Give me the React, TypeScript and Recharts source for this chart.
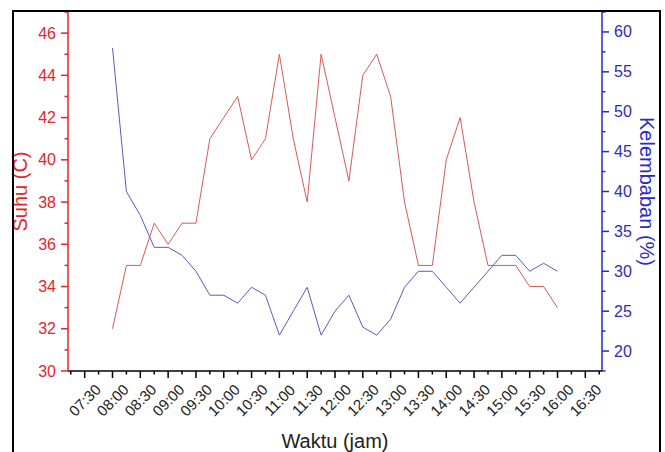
import { LineChart, Line, XAxis, YAxis } from "recharts";

// measurements every 15 minutes
const times = [
  "08:00", "08:15", "08:30", "08:45", "09:00", "09:15", "09:30", "09:45",
  "10:00", "10:15", "10:30", "10:45", "11:00", "11:15", "11:30", "11:45",
  "12:00", "12:15", "12:30", "12:45", "13:00", "13:15", "13:30", "13:45",
  "14:00", "14:15", "14:30", "14:45", "15:00", "15:15", "15:30", "15:45",
  "16:00",
];
const suhu = [
  32, 35, 35, 37, 36, 37, 37, 41, 42, 43, 40, 41, 45, 41, 38, 45,
  42, 39, 44, 45, 43, 38, 35, 35, 40, 42, 38, 35, 35, 35, 34, 34, 33,
];
const kelembaban = [
  58, 40, 37, 33, 33, 32, 30, 27, 27, 26, 28, 27, 22, 25, 28, 22,
  25, 27, 23, 22, 24, 28, 30, 30, 28, 26, 28, 30, 32, 32, 30, 31, 30,
];

const xTickLabels = [
  "07:30", "08:00", "08:30", "09:00", "09:30", "10:00", "10:30", "11:00",
  "11:30", "12:00", "12:30", "13:00", "13:30", "14:00", "14:30", "15:00",
  "15:30", "16:00", "16:30",
];
const suhuTickLabels = [30, 32, 34, 36, 38, 40, 42, 44, 46];
const kelembabanTickLabels = [20, 25, 30, 35, 40, 45, 50, 55, 60];

const RED = "#e2262b";
const BLUE = "#2a2ac6";
const FONT = "'Liberation Sans', Arial, sans-serif";
const TICK_SIZE = 7;
const TICK_GAP = 5;

const toHours = (t: string) => {
  const [h, m] = t.split(":").map(Number);
  return h + m / 60;
};

const data = times.map((t, i) => ({
  hour: toHours(t),
  suhu: suhu[i],
  kelembaban: kelembaban[i],
}));

// major + minor tick positions
const xTicks = Array.from({ length: 39 }, (_, i) => 7.25 + i * 0.25);
const suhuTicks = Array.from({ length: 18 }, (_, i) => 30 + i);
const kelembabanTicks = Array.from({ length: 19 }, (_, i) => 17.5 + i * 2.5);

function SuhuTick(props: any) {
  const { x, y, payload } = props;
  const axisX = x + TICK_SIZE + TICK_GAP;
  const major = suhuTickLabels.includes(payload.value);
  return (
    <g>
      <line x1={axisX - (major ? TICK_SIZE : 3.5)} x2={axisX} y1={y} y2={y} stroke={RED} strokeWidth={1.5} />
      {major && (
        <text x={x} y={y} textAnchor="end" dominantBaseline="central" fill={RED} fontSize={16} fontFamily={FONT}>
          {payload.value}
        </text>
      )}
    </g>
  );
}

function KelembabanTick(props: any) {
  const { x, y, payload } = props;
  const axisX = x - TICK_SIZE - TICK_GAP;
  const major = kelembabanTickLabels.includes(payload.value);
  return (
    <g>
      <line x1={axisX} x2={axisX + (major ? TICK_SIZE : 3.5)} y1={y} y2={y} stroke={BLUE} strokeWidth={1.5} />
      {major && (
        <text x={x} y={y} textAnchor="start" dominantBaseline="central" fill={BLUE} fontSize={16} fontFamily={FONT}>
          {payload.value}
        </text>
      )}
    </g>
  );
}

function TimeTick(props: any) {
  const { x, y, payload } = props;
  const axisY = y - TICK_SIZE - TICK_GAP;
  const label = xTickLabels.find((l) => Math.abs(toHours(l) - payload.value) < 1e-6);
  const cx = x;
  const cy = axisY + 29;
  return (
    <g>
      <line x1={x} x2={x} y1={axisY} y2={axisY + (label ? TICK_SIZE : 3.5)} stroke="#000" strokeWidth={1.5} />
      {label && (
        <text
          x={cx}
          y={cy}
          transform={`rotate(-45 ${cx} ${cy})`}
          textAnchor="middle"
          dominantBaseline="central"
          fill="#222"
          fontSize={15}
          fontFamily={FONT}
        >
          {label}
        </text>
      )}
    </g>
  );
}

export default function App() {
  return (
    <div style={{ position: "absolute", left: 0, top: 0, width: 665, height: 452, overflow: "hidden", background: "#fff" }}>
      <LineChart width={665} height={452} data={data} margin={{ top: 12, right: 0, bottom: 0, left: 0 }}>
        <XAxis
          type="number"
          dataKey="hour"
          domain={[7.2, 16.8]}
          ticks={xTicks}
          interval={0}
          height={81}
          tickSize={TICK_SIZE}
          tickMargin={TICK_GAP}
          tickLine={false}
          tick={<TimeTick />}
          axisLine={{ stroke: "#000", strokeWidth: 1.5 }}
          label={{
            value: "Waktu (jam)",
            position: "insideBottom",
            offset: 4,
            fill: "#222",
            fontSize: 20,
            fontFamily: FONT,
          }}
        />
        <YAxis
          yAxisId="suhu"
          orientation="left"
          domain={[30, 47]}
          ticks={suhuTicks}
          interval={0}
          width={68}
          tickSize={TICK_SIZE}
          tickMargin={TICK_GAP}
          tickLine={false}
          tick={<SuhuTick />}
          axisLine={{ stroke: RED, strokeWidth: 1.5 }}
          label={{
            value: "Suhu (C)",
            angle: -90,
            position: "insideLeft",
            offset: 20,
            fill: RED,
            fontSize: 20,
            fontFamily: FONT,
            style: { textAnchor: "middle" },
          }}
        />
        <YAxis
          yAxisId="kelembaban"
          orientation="right"
          domain={[17.5, 62.5]}
          ticks={kelembabanTicks}
          interval={0}
          width={63}
          tickSize={TICK_SIZE}
          tickMargin={TICK_GAP}
          tickLine={false}
          tick={<KelembabanTick />}
          axisLine={{ stroke: BLUE, strokeWidth: 1.5 }}
          label={{
            value: "Kelembaban (%)",
            angle: 90,
            position: "insideRight",
            offset: 18,
            fill: BLUE,
            fontSize: 20,
            fontFamily: FONT,
            style: { textAnchor: "middle" },
          }}
        />
        <Line
          yAxisId="suhu"
          type="linear"
          dataKey="suhu"
          stroke="#d85a5a"
          strokeWidth={1}
          dot={false}
          isAnimationActive={false}
        />
        <Line
          yAxisId="kelembaban"
          type="linear"
          dataKey="kelembaban"
          stroke="#5a5ac0"
          strokeWidth={1}
          dot={false}
          isAnimationActive={false}
        />
      </LineChart>
      <div
        style={{
          position: "absolute",
          left: 12,
          top: 10,
          width: 649,
          height: 470,
          border: "2px solid #000",
          boxSizing: "border-box",
          pointerEvents: "none",
        }}
      />
    </div>
  );
}
